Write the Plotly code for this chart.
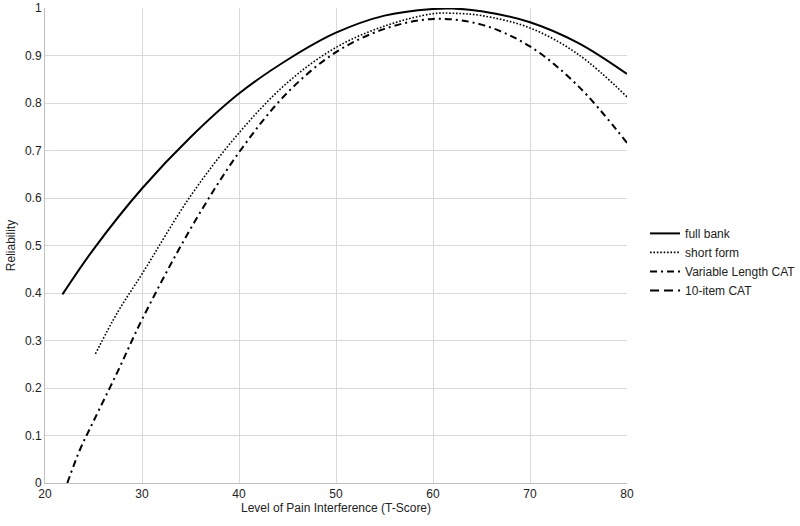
import plotly.graph_objects as go

# values
full_x = [21.8, 25, 30, 35, 40, 45, 50, 55, 60, 62, 65, 70, 75, 80]
full_y = [0.397, 0.492, 0.62, 0.728, 0.82, 0.891, 0.948, 0.984, 0.998, 0.999, 0.993, 0.970, 0.926, 0.861]

short_x = [25.2, 27.5, 30, 35, 40, 45, 50, 55, 60, 62, 65, 70, 75, 80]
short_y = [0.272, 0.36, 0.44, 0.604, 0.737, 0.843, 0.917, 0.962, 0.988, 0.989, 0.984, 0.958, 0.902, 0.813]

varcat_x = [22.3, 23.6, 25, 27.5, 30, 35, 40, 45, 50, 55, 60, 65, 70, 75, 80]
varcat_y = [0.0, 0.07, 0.13, 0.235, 0.344, 0.535, 0.696, 0.822, 0.907, 0.956, 0.977, 0.965, 0.919, 0.835, 0.716]

# 10-item CAT shows up only in the legend
cat10_x = [None]
cat10_y = [None]

fig = go.Figure()
fig.add_trace(go.Scatter(x=full_x, y=full_y, mode='lines', name='full bank',
                         line=dict(color='black', width=2, shape='spline')))
fig.add_trace(go.Scatter(x=short_x, y=short_y, mode='lines', name='short form',
                         line=dict(color='black', width=1.6, dash='1.6px,1.8px', shape='spline')))
fig.add_trace(go.Scatter(x=varcat_x, y=varcat_y, mode='lines', name='Variable Length CAT',
                         line=dict(color='black', width=2, dash='7px,4px,2px,4px', shape='spline')))
fig.add_trace(go.Scatter(x=cat10_x, y=cat10_y, mode='lines', name='10-item CAT',
                         line=dict(color='black', width=2, dash='9px,5px')))

fig.update_xaxes(range=[20, 80], dtick=10, showgrid=True, gridcolor='#d9d9d9',
                 showline=True, linecolor='#bfbfbf', zeroline=False, ticks='', automargin=False,
                 title=dict(text='Level of Pain Interference (T-Score)', standoff=2,
                            font=dict(size=12, color='#222')),
                 tickfont=dict(size=12, color='#222'))
fig.update_yaxes(range=[0, 1], dtick=0.1, showgrid=True, gridcolor='#d9d9d9',
                 showline=True, linecolor='#bfbfbf', zeroline=False, ticks='', automargin=False,
                 title=dict(text='Reliability', standoff=6, font=dict(size=12, color='#222')),
                 tickfont=dict(size=12, color='#222'))
fig.update_layout(
    width=800, height=526,
    margin=dict(l=45, r=173, t=8, b=43, autoexpand=False),
    plot_bgcolor='white', paper_bgcolor='white',
    font=dict(family='Liberation Sans, Arial, sans-serif', color='#222'),
    legend=dict(x=1.031, y=0.556, xanchor='left', yanchor='top',
                font=dict(size=12, color='#222'), tracegroupgap=0,
                itemwidth=30, bgcolor='rgba(0,0,0,0)'),
)
fig.write_html("out.html", config={'displayModeBar': False},
               post_script="document.body.style.margin='0';")
